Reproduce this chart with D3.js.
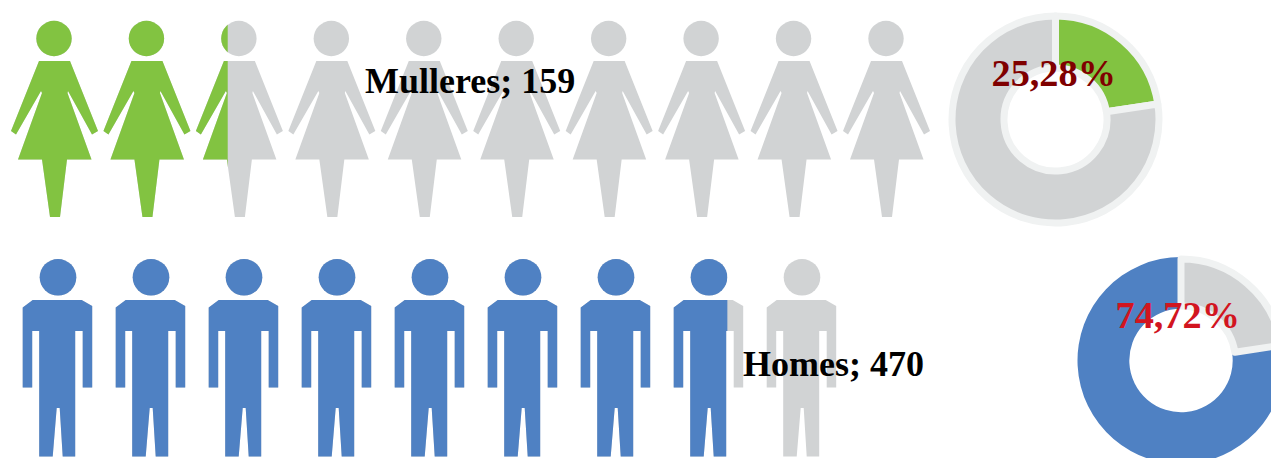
<!DOCTYPE html>
<html>
<head>
<meta charset="utf-8">
<script src="https://d3js.org/d3.v7.min.js"></script>
<style>
    html, body { margin: 0; padding: 0; background: #fff; overflow: hidden; }
    text { font-family: "Liberation Serif", serif; font-weight: bold; }
</style>
</head>
<body>
<div id="chart"></div>
<script>
// data
const categories = ["Mulleres", "Homes"];
const counts = [159, 470];
const percentLabels = ["25,28%", "74,72%"];
const iconTotals = [10, 9];
const iconsFilled = [2.37, 7.76];
// share of the ring each coloured slice really takes in the drawing
const ringShares = [[22.6, 77.4], [77.4, 22.6]];

const GREEN = "#82c341", BLUE = "#4f81c3", GREY = "#d1d3d4", RING = "#f0f2f2";

const svg = d3.select("#chart").append("svg")
    .attr("width", 1271)
    .attr("height", 458);

// icon outlines, relative to the icon centre
const womanPath = "M-15,61L16,61L44,131L38,134.5L14,91L13.5,93L37.5,159.5L13,159.5L6,217L-4,217L-12,159.5L-36,159.5L-12,93L-13,91L-38,134.5L-43,131Z";
const manPath = "M-25.3,300L23.7,300L34.2,306L34.2,387.5L24.7,387.5L24.7,331L17.2,331L17.2,456.5L4.7,456.5L1.7,408L-1.3,408L-5.3,456.5L-18.8,456.5L-18.8,331L-25.8,331L-25.8,387.5L-35.3,387.5L-35.3,307.5Z";

const rows = [
    {path: womanPath, head: {y: 38.5, r: 17.7}, halfWidth: 43, color: GREEN, range: [54, 886], labelX: 365, labelY: 92.5},
    {path: manPath, head: {y: 277.3, r: 18.3}, halfWidth: 35.3, color: BLUE, range: [58, 802], labelX: 743, labelY: 376}
];

function drawIcon(g, row, fill) {
    g.append("circle")
        .attr("cy", row.head.y)
        .attr("r", row.head.r)
        .attr("fill", fill);
    g.append("path")
        .attr("d", row.path)
        .attr("fill", fill);
}

rows.forEach((row, r) => {
    let x = d3.scaleLinear()
        .domain([0, iconTotals[r] - 1])
        .range(row.range);

    let fillEdge = x(Math.floor(iconsFilled[r])) - row.halfWidth
        + (iconsFilled[r] % 1) * row.halfWidth * 2;

    svg.append("clipPath")
        .attr("id", "fill-clip-" + r)
        .append("rect")
        .attr("x", 0)
        .attr("y", 0)
        .attr("width", fillEdge)
        .attr("height", 458);

    let grey = svg.append("g");
    let coloured = svg.append("g").attr("clip-path", `url(#fill-clip-${r})`);

    d3.range(iconTotals[r]).forEach(i => {
        drawIcon(grey.append("g").attr("transform", `translate(${x(i)},0)`), row, GREY);
        drawIcon(coloured.append("g").attr("transform", `translate(${x(i)},0)`), row, row.color);
    });
});

// donuts
const pie = d3.pie().sort(null);

let ring1 = svg.append("g").attr("transform", "translate(1055.5,119.5)");
let arc1 = d3.arc().innerRadius(51.5).outerRadius(103.5);
ring1.selectAll("path")
    .data(pie(ringShares[0]))
    .join("path")
    .attr("d", arc1)
    .attr("fill", (d, i) => i === 0 ? GREEN : GREY)
    .attr("stroke", RING)
    .attr("stroke-width", 7)
    .attr("stroke-linejoin", "round");

let ring2 = svg.append("g").attr("transform", "translate(1181,360.5)");
let pie2 = pie(ringShares[1]);
// blue runs clockwise from the end of the grey slice
let greyEnd = pie2[1].endAngle - pie2[1].startAngle;
ring2.append("path")
    .attr("d", d3.arc().innerRadius(51.7).outerRadius(103.5)({startAngle: greyEnd, endAngle: 2 * Math.PI}))
    .attr("fill", BLUE);
ring2.append("path")
    .attr("d", d3.arc().innerRadius(54.5).outerRadius(101.5)({startAngle: 0, endAngle: greyEnd}))
    .attr("fill", GREY)
    .attr("stroke", RING)
    .attr("stroke-width", 7)
    .attr("stroke-linejoin", "round");

// labels on top
rows.forEach((row, r) => {
    svg.append("text")
        .attr("x", row.labelX)
        .attr("y", row.labelY)
        .attr("font-size", 36)
        .attr("fill", "#000")
        .text(`${categories[r]}; ${counts[r]}`);
});

svg.append("text")
    .attr("x", 991.5)
    .attr("y", 86)
    .attr("font-size", 38.3)
    .attr("fill", "#7f0000")
    .text(percentLabels[0]);

svg.append("text")
    .attr("x", 1115.5)
    .attr("y", 328)
    .attr("font-size", 38.3)
    .attr("fill", "#d2151f")
    .text(percentLabels[1]);
</script>
</body>
</html>
